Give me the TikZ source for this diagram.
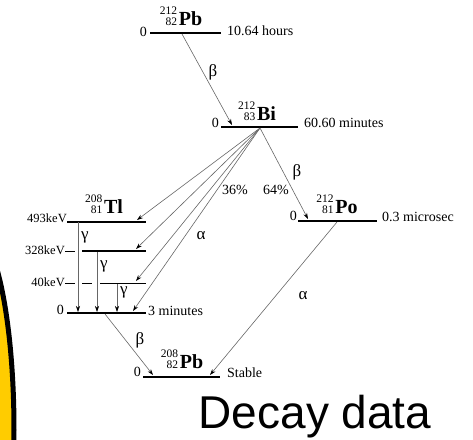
\documentclass[tikz,border=0pt]{standalone}
\usepackage{fontspec}
\setmainfont{Liberation Serif}
\newfontfamily\slidefont{Liberation Sans}
\usetikzlibrary{arrows.meta}
\definecolor{slideyellow}{RGB}{255,204,0}
\newcommand{\nuclide}[3]{{\fontsize{11.5}{9}\selectfont\begin{tabular}[b]{@{}r@{}}#1\\#2\end{tabular}}\,{\fontsize{20}{20}\selectfont\bfseries #3}}
\tikzset{
  level/.style={line width=1.8pt},
  thinlevel/.style={line width=1pt},
  decay/.style={draw=black!60, line width=0.6pt, -{Stealth[length=6pt,width=4pt,black]}},
  lbl/.style={font=\fontsize{14}{14}\selectfont, inner sep=0pt},
  greek/.style={font=\fontsize{17}{17}\selectfont, inner sep=0pt},
  kev/.style={font=\fontsize{12.5}{12.5}\selectfont, inner sep=0pt, anchor=base east},
}
\begin{document}
\begin{tikzpicture}[x=1pt,y=-1pt]
  \useasboundingbox (0,0) rectangle (473,439);
  \clip (0,0) rectangle (473,439);
  \draw[line width=5pt, fill=slideyellow] (-28,430) ellipse (42 and 200);

  % Pb 212
  \coordinate (pbaL) at (150,33); \coordinate (pbaR) at (221,33);
  \draw[level] (pbaL) -- (pbaR);
  \node[anchor=base] (pba) at (181,25) {\nuclide{212}{82}{Pb}};
  \node[lbl, anchor=base east] (pbazero) at (147,36) {0};
  \node[lbl, anchor=base west] (pbatime) at (227,35) {10.64 hours};

  % Bi 212
  \coordinate (biL) at (221,127); \coordinate (biR) at (298,127);
  \draw[level] (biL) -- (biR);
  \node[anchor=base] (bi) at (257,120) {\nuclide{212}{83}{Bi}};
  \node[lbl, anchor=base east] (bizero) at (219,127) {0};
  \node[lbl, anchor=base west] (bitime) at (304,127) {60.60 minutes};

  % Po 212
  \coordinate (poL) at (298,221); \coordinate (poR) at (377,221);
  \draw[level] (poL) -- (poR);
  \node[anchor=base] (po) at (337,213) {\nuclide{212}{81}{Po}};
  \node[lbl, anchor=base east] (pozero) at (297,220) {0};
  \node[lbl, anchor=base west] (potime) at (382,221) {0.3 microsec};

  % Tl 208
  \coordinate (tlaL) at (67,222); \coordinate (tlaR) at (146,222);
  \coordinate (tlbL) at (65,251); \coordinate (tlbR) at (146,251);
  \coordinate (tlcL) at (65,283); \coordinate (tlcR) at (146,283);
  \coordinate (tlzL) at (67,313); \coordinate (tlzR) at (146,313);
  \draw[level] (tlaL) -- (tlaR);
  \draw[thinlevel] (tlbL) -- ++(10,0);
  \draw[level] (82,251) -- (tlbR);
  \draw[thinlevel] (tlcL) -- ++(10,0) (82,283) -- (92,283) (100,283) -- (tlcR);
  \draw[level] (tlzL) -- (tlzR);
  \node[anchor=base] (tl) at (104,213) {\nuclide{208}{81}{Tl}};
  \node[kev] (kev493) at (67,222) {493keV};
  \node[kev] (kev328) at (65,254) {328keV};
  \node[kev] (kev40) at (65,286) {40keV};
  \node[lbl, anchor=base east] (tlzero) at (64,314) {0};
  \node[lbl, anchor=base west] (tltime) at (148,315) {3 minutes};

  % Pb 208
  \coordinate (pbbL) at (143,377); \coordinate (pbbR) at (220,377);
  \draw[level] (pbbL) -- (pbbR);
  \node[anchor=base] (pbb) at (182,368) {\nuclide{208}{82}{Pb}};
  \node[lbl, anchor=base east] (pbbzero) at (141,376) {0};
  \node[lbl, anchor=base west] (pbbtime) at (227,377) {Stable};

  % decays
  \coordinate (pbaout) at (182,34);
  \coordinate (biin) at (232,125);
  \coordinate (biout) at (260,128);
  \coordinate (poin) at (308,219);
  \coordinate (poout) at (337,222);
  \coordinate (tlain) at (137,220);
  \coordinate (tlbin) at (136,249);
  \coordinate (tlcin) at (136,281);
  \coordinate (tlzin) at (133,311);
  \coordinate (tlzout) at (105,314);
  \coordinate (pbbina) at (153,375);
  \coordinate (pbbinb) at (210,375);
  \draw[decay] (pbaout) -- (biin);
  \draw[decay] (biout) -- (poin);
  \draw[decay] (biout) -- (tlain);
  \draw[decay] (biout) -- (tlbin);
  \draw[decay] (biout) -- (tlcin);
  \draw[decay] (biout) -- (tlzin);
  \draw[decay] (tlzout) -- (pbbina);
  \draw[decay] (poout) -- (pbbinb);

  % gamma lines
  \draw[decay] (78,222) -- (78,312);
  \draw[decay] (97,252) -- (97,312);
  \draw[decay] (117,284) -- (117,312);

  \node[greek] (gammaa) at (85,237) {γ};
  \node[greek] (gammab) at (104,266) {γ};
  \node[greek] (gammac) at (124,292) {γ};
  \node[greek] (betaa) at (213,72) {β};
  \node[greek] (betab) at (297,172) {β};
  \node[greek] (betac) at (140,340) {β};
  \node[greek] (alphaa) at (201,236) {α};
  \node[greek] (alphab) at (303,296) {α};
  \node[lbl] (pcta) at (235,190) {36\%};
  \node[lbl] (pctb) at (276,190) {64\%};

  \node[font=\slidefont\fontsize{46}{46}\selectfont, anchor=base] (title) at (315,428) {Decay data};
\end{tikzpicture}
\end{document}
